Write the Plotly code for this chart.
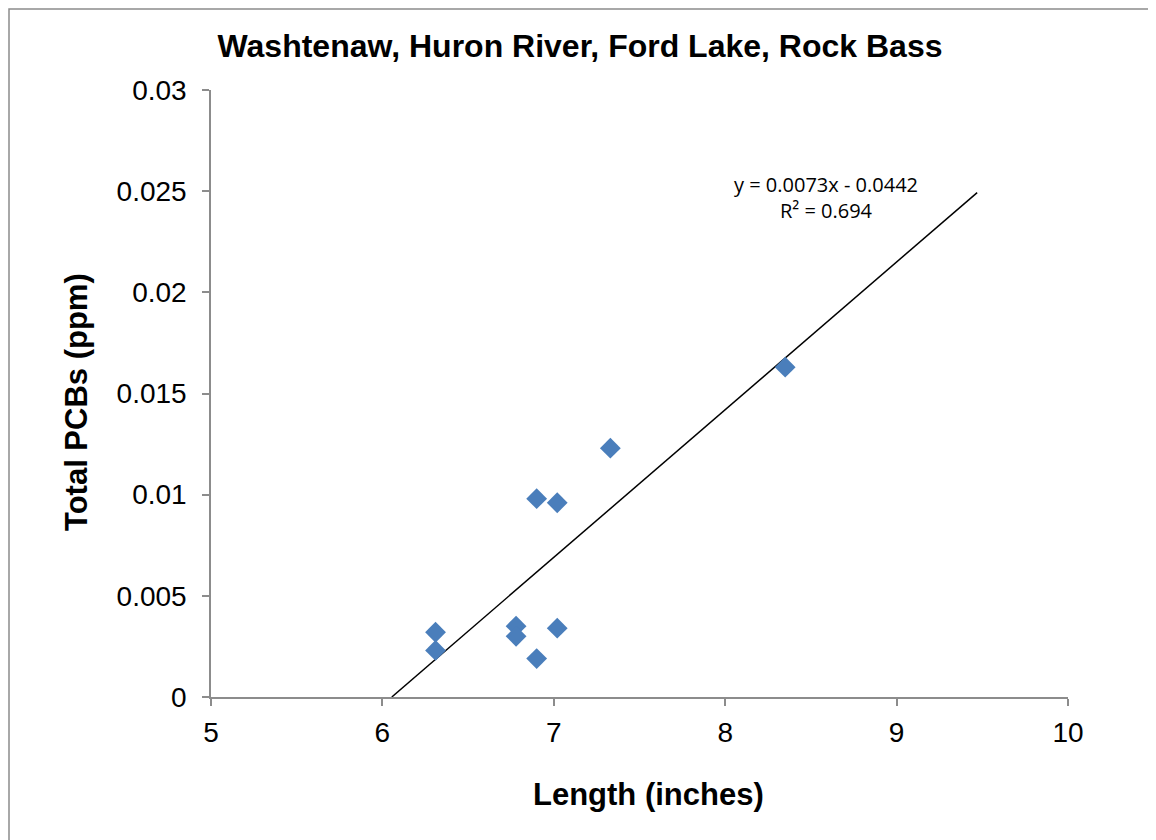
import numpy as np
import plotly.graph_objects as go

length_in = [6.31, 6.31, 6.78, 6.78, 6.90, 6.90, 7.02, 7.02, 7.33, 8.35]
pcb_ppm = [0.0032, 0.0023, 0.0035, 0.0030, 0.0019, 0.0098, 0.0096, 0.0034, 0.0123, 0.0163]
slope = 0.0073
intercept = -0.0442
r_squared = "0.694"
trend_end = 9.47
x_ticks = [5, 6, 7, 8, 9, 10]
y_ticks = [0, 0.005, 0.01, 0.015, 0.02, 0.025, 0.03]
y_ticktext = ["0", "0.005", "0.01", "0.015", "0.02", "0.025", "0.03"]

OFF = 8  # page body margin
W, H = 1156 - OFF, 840 - OFF
L, R, T, B = 211 - OFF, 1068 - OFF, 90 - OFF, 697 - OFF

trend_x = np.array([-intercept / slope, trend_end])
trend_y = slope * trend_x + intercept

fig = go.Figure()
fig.add_trace(go.Scatter(x=trend_x, y=trend_y, mode="lines",
                         line=dict(color="black", width=1.5), showlegend=False, hoverinfo="skip"))
fig.add_trace(go.Scatter(x=length_in, y=pcb_ppm, mode="markers",
                         marker=dict(symbol="diamond", size=16, color="#4a7ebb", line=dict(width=0)),
                         showlegend=False))

def px(x):
    return (x - OFF - L) / (R - L)

def py(y):
    return (B - (y - OFF)) / (B - T)

fig.add_shape(type="rect", xref="paper", yref="paper",
              x0=px(9), x1=px(1155), y0=py(860), y1=py(9),
              line=dict(color="#8c8c8c", width=1.5), fillcolor="rgba(0,0,0,0)", layer="below")

FONT = "Liberation Sans, Arial, sans-serif"
fig.update_layout(
    width=W, height=H,
    margin=dict(l=L, r=W - R, t=T, b=H - B),
    paper_bgcolor="white", plot_bgcolor="white",
    font=dict(family=FONT, color="black"),
    title=dict(text="<b>Washtenaw, Huron River, Ford Lake, Rock Bass</b>",
               x=(580 - OFF) / W, y=1 - (46 - OFF) / H, xanchor="center", yanchor="middle",
               font=dict(size=32, family=FONT)),
    xaxis=dict(range=[5, 10], tickvals=x_ticks, ticks="outside", ticklen=7, tickcolor="#8c8c8c",
               tickwidth=1.5, showline=True, linecolor="#8c8c8c", linewidth=1.5, showgrid=False,
               zeroline=False, tickfont=dict(size=28), ticklabelstandoff=3),
    yaxis=dict(range=[0, 0.03], tickvals=y_ticks, ticktext=y_ticktext, ticks="outside", ticklen=7,
               tickcolor="#8c8c8c", tickwidth=1.5, showline=True, linecolor="#8c8c8c", linewidth=1.5,
               showgrid=False, zeroline=False, tickfont=dict(size=28), ticklabelstandoff=10),
)

fig.add_annotation(xref="paper", yref="paper", x=px(648), y=py(795), xanchor="center", yanchor="middle",
                   text="<b>Length (inches)</b>", showarrow=False, font=dict(size=31, family=FONT))
fig.add_annotation(xref="paper", yref="paper", x=px(76), y=py(402), xanchor="center", yanchor="middle",
                   text="<b>Total PCBs (ppm)</b>", showarrow=False, textangle=-90,
                   font=dict(size=31, family=FONT))
fig.add_annotation(xref="paper", yref="paper", x=px(826), y=py(198), xanchor="center", yanchor="middle",
                   text=f"y = {slope}x - {abs(intercept)}<br>R² = {r_squared}", showarrow=False,
                   font=dict(size=20, family="Open Sans, Noto Sans, sans-serif"), align="center")

fig.write_html("out.html")
